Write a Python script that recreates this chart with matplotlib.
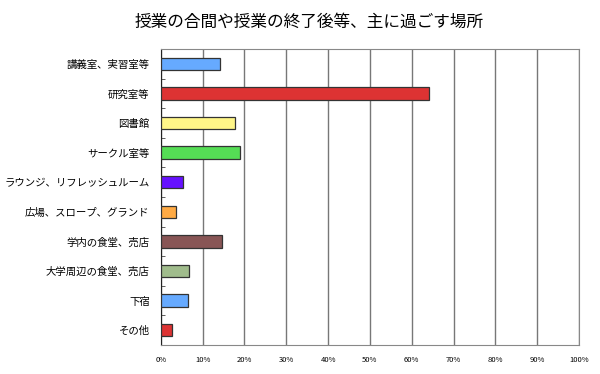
import matplotlib.pyplot as plt
import numpy as np

plt.rcParams['font.family'] = ['Noto Sans CJK JP', 'DejaVu Sans']

# data
places = ['講義室、実習室等', '研究室等', '図書館', 'サークル室等', 'ラウンジ、リフレッシュルーム',
          '広場、スロープ、グランド', '学内の食堂、売店', '大学周辺の食堂、売店', '下宿', 'その他']
percent = [14.1, 64.1, 17.7, 18.9, 5.3, 3.6, 14.6, 6.7, 6.5, 2.6]
colors = ['#66AAFF', '#DD3333', '#FFF688', '#55DD55', '#6611FF',
          '#FFAA44', '#885555', '#A0BC8C', '#66AAFF', '#DD3333']

fig = plt.figure(figsize=(6, 3.74), dpi=100)
ax = fig.add_axes([0.268, 0.0775, 0.697, 0.7915])

y = np.arange(len(places))
ax.barh(y, percent, height=0.42, color=colors, edgecolor='#333333', linewidth=0.9, zorder=3)

ax.set_xlim(0, 100)
ax.set_ylim(len(places) - 0.5, -0.5)
ax.set_xticks(np.arange(0, 101, 10))
ax.set_xticklabels([f'{v}%' for v in range(0, 101, 10)], fontsize=5.5)
ax.set_yticks(y)
ax.set_yticklabels(places, fontsize=7.5)
ax.tick_params(axis='y', length=0, pad=8)
ax.tick_params(axis='x', length=0, pad=8)
# small boundary ticks
ax.set_yticks(np.arange(-0.5, len(places), 1), minor=True)
ax.tick_params(axis='y', which='minor', length=3, direction='in', color='#444444')

ax.grid(axis='x', color='#777777', linewidth=1, zorder=0)
for s in ['top', 'right', 'bottom']:
    ax.spines[s].set_color('#888888')
ax.spines['left'].set_color('#222222')

fig.text(0.515, 0.94, '授業の合間や授業の終了後等、主に過ごす場所', ha='center', va='center', fontsize=12)

fig.savefig('out.png', dpi=100)
